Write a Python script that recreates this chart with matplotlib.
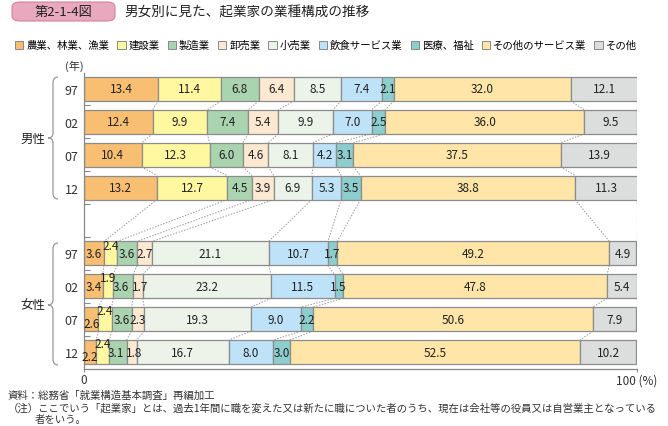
import numpy as np
import matplotlib
matplotlib.use('Agg')
import matplotlib.pyplot as plt
from matplotlib.patches import FancyBboxPatch, PathPatch, Rectangle
from matplotlib.path import Path

plt.rcParams['font.family'] = ['Noto Sans CJK JP', 'DejaVu Sans']

# data
categories = ['農業、林業、漁業', '建設業', '製造業', '卸売業', '小売業',
              '飲食サービス業', '医療、福祉', 'その他のサービス業', 'その他']
years = ['97', '02', '07', '12']
male = [
    [13.4, 11.4, 6.8, 6.4, 8.5, 7.4, 2.1, 32.0, 12.1],
    [12.4, 9.9, 7.4, 5.4, 9.9, 7.0, 2.5, 36.0, 9.5],
    [10.4, 12.3, 6.0, 4.6, 8.1, 4.2, 3.1, 37.5, 13.9],
    [13.2, 12.7, 4.5, 3.9, 6.9, 5.3, 3.5, 38.8, 11.3],
]
female = [
    [3.6, 2.4, 3.6, 2.7, 21.1, 10.7, 1.7, 49.2, 4.9],
    [3.4, 1.9, 3.6, 1.7, 23.2, 11.5, 1.5, 47.8, 5.4],
    [2.6, 2.4, 3.6, 2.3, 19.3, 9.0, 2.2, 50.6, 7.9],
    [2.2, 2.4, 3.1, 1.8, 16.7, 8.0, 3.0, 52.5, 10.2],
]
colors = ['#F8BE72', '#FFF8A0', '#AAD4B0', '#FDE9D2', '#ECF4EA',
          '#BEE3F8', '#8CCDCD', '#FFE6A8', '#DCDDDD']

W, H = 668, 427
fig = plt.figure(figsize=(W / 100, H / 100), dpi=100)
ax = fig.add_axes([84 / W, 1 - 369.5 / H, 553 / W, 296 / H])

rows = male + female
ypos = [0, 1, 2, 3, 5, 6, 7, 8]
bh = 0.73
edge = '#8C8C8C'
numfont = ['Liberation Sans Narrow', 'Noto Sans CJK JP', 'DejaVu Sans']

# label nudges (points, dx, dy with + up) for thin female segments
nudge = {(4, 1): (0, 6), (5, 1): (0, 6), (6, 0): (0, -3), (6, 1): (0, 6),
         (7, 0): (0, -3), (7, 1): (0, 6),
         (5, 2): (-1.5, 0), (5, 3): (1.5, 0), (7, 2): (-1.5, 0), (7, 3): (1.5, 0)}

ax.axvline(100, color='#AAAAAA', ls=':', lw=0.9, zorder=0)

cums = []
for r, (y, vals) in enumerate(zip(ypos, rows)):
    vals = np.array(vals)
    left = np.concatenate([[0], np.cumsum(vals)[:-1]])
    cums.append(np.cumsum(vals))
    ax.barh(y, vals, left=left, height=bh, color=colors, edgecolor=edge,
            linewidth=0.9, zorder=2)
    for c, (l, v) in enumerate(zip(left, vals)):
        dx, dy = nudge.get((r, c), (0, 0))
        ax.annotate(f'{v:.1f}', (l + v / 2, y), xytext=(dx, dy),
                    textcoords='offset points', ha='center', va='center',
                    fontsize=8.5, family=numfont, color='#222222', zorder=4)

# dashed connectors between consecutive bars
for i in range(len(ypos) - 1):
    y0, y1 = ypos[i], ypos[i + 1]
    for k in range(len(categories) - 1):
        ax.plot([cums[i][k], cums[i + 1][k]], [y0 + bh / 2, y1 - bh / 2],
                color='#999999', ls=(0, (1.5, 1.5)), lw=0.7, zorder=1)

ax.set_xlim(0, 100)
ax.set_ylim(8.5, -0.5)
ax.set_yticks(ypos)
ax.set_yticklabels(years + years, fontsize=9, color='#333333')
ax.tick_params(axis='y', length=0, pad=4)
ax.set_yticks(np.arange(-0.5, 8.6, 1.0)[1:-1], minor=True)
ax.tick_params(axis='y', which='minor', direction='in', length=4,
               color='#888888', width=0.8)
ax.set_xticks([0, 100])
ax.set_xticklabels(['0', '100 (%)'], fontsize=8.5, color='#333333')
ax.tick_params(axis='x', length=2, color='#888888', pad=1.5)
for s in ['top', 'right']:
    ax.spines[s].set_visible(False)
for s in ['left', 'bottom']:
    ax.spines[s].set_color('#888888')
    ax.spines[s].set_linewidth(0.9)


def fx(x):
    return x / W


def fy(y):
    return 1 - y / H


# braces
def brace(y0, y1, ym):
    xe, xs, xt = 58, 53, 48
    pts = [(xe, y0), (xs, y0), (xs, y0 + 6), (xs, ym - 5), (xs, ym), (xt, ym),
           (xs, ym), (xs, ym + 5), (xs, y1 - 6), (xs, y1), (xe, y1)]
    codes = [Path.MOVETO, Path.CURVE3, Path.CURVE3, Path.LINETO, Path.CURVE3,
             Path.CURVE3, Path.CURVE3, Path.CURVE3, Path.LINETO, Path.CURVE3,
             Path.CURVE3]
    p = Path([(fx(a), fy(b)) for a, b in pts], codes)
    fig.patches.append(PathPatch(p, transform=fig.transFigure, fill=False,
                                 edgecolor='#999999', lw=0.9))


brace(78, 200, 139)
brace(244, 366, 306)
fig.text(fx(33), fy(139), '男性', ha='center', va='center', fontsize=9, color='#222222')
fig.text(fx(33), fy(306), '女性', ha='center', va='center', fontsize=9, color='#222222')
fig.text(fx(74), fy(66), '(年)', ha='center', va='center', fontsize=8, color='#333333')

# title badge
fig.patches.append(FancyBboxPatch((fx(12), fy(22)), fx(103), 19 / H,
                                  boxstyle='round,pad=0,rounding_size=0.012',
                                  transform=fig.transFigure, facecolor='#E8A8BD',
                                  edgecolor='#D2849E', lw=0.8))
fig.text(fx(63), fy(12.5), '第2-1-4図', ha='center', va='center', fontsize=9.5,
         color='#222222')
fig.text(fx(124), fy(12.5), '男女別に見た、起業家の業種構成の推移', ha='left',
         va='center', fontsize=9.8, color='#222222')

# legend
fig.legend([Rectangle((0, 0), 1, 1, facecolor=c, edgecolor='#888888', lw=0.7)
            for c in colors], categories, ncol=9, loc='center',
           bbox_to_anchor=(fx(326), fy(46)), frameon=False, fontsize=7.5,
           handlelength=0.8, handleheight=0.8, handletextpad=0.3,
           columnspacing=0.75, borderpad=0)

# notes
fig.text(fx(8), fy(396), '資料：総務省「就業構造基本調査」再編加工', ha='left',
         va='center', fontsize=7.5, color='#333333')
fig.text(fx(8), fy(408.5), '（注）ここでいう「起業家」とは、過去1年間に職を変えた又は新たに職についた者のうち、'
         '現在は会社等の役員又は自営業主となっている', ha='left', va='center',
         fontsize=7.5, color='#333333')
fig.text(fx(35), fy(420.5), '者をいう。', ha='left', va='center', fontsize=7.5,
         color='#333333')

fig.savefig('out.png', dpi=100)
